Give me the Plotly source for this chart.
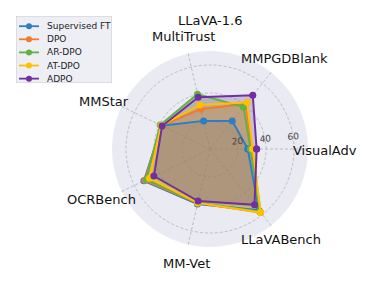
import plotly.graph_objects as go

# ---- data ----
categories = ["VisualAdv", "MMPGDBlank", "LLaVA-1.6 MultiTrust", "MMStar", "OCRBench", "MM-Vet", "LLaVABench"]
methods = ["Supervised FT", "DPO", "AR-DPO", "AT-DPO", "ADPO"]
sft_vals = [27, 25.5, 20.6, 38.3, 52.4, 40.3, 56]
dpo_vals = [30, 41, 29.3, 38.5, 51.6, 39.5, 58]
ardpo_vals = [29, 38.4, 40.2, 39.5, 50.5, 39.3, 57]
atdpo_vals = [30.5, 42.6, 32.3, 38.8, 48, 39.5, 58]
adpo_vals = [33.3, 49, 38, 38, 44.5, 38.1, 51]
radial_ticks = [20, 40, 60]
series = [sft_vals, dpo_vals, ardpo_vals, atdpo_vals, adpo_vals]

# ---- styles ----
colors = ["#2e7ec1", "#f27b2b", "#63b043", "#ffc000", "#7030a0"]
fills = ["rgba(46,126,193,0.25)", "rgba(242,123,43,0.25)", "rgba(99,176,67,0.25)",
         "rgba(255,192,0,0.25)", "rgba(112,48,160,0.25)"]
W, H = 374, 285
FONT = "DejaVu Sans"

fig = go.Figure()
# fills first
for name, vals, fc in zip(methods, series, fills):
    fig.add_trace(go.Scatterpolar(
        r=vals + vals[:1], theta=categories + categories[:1],
        mode="none", fill="toself", fillcolor=fc, showlegend=False, hoverinfo="skip",
    ))
# lines and markers on top
for name, vals, c in zip(methods, series, colors):
    fig.add_trace(go.Scatterpolar(
        r=vals + vals[:1], theta=categories + categories[:1],
        mode="lines+markers", name=name,
        line=dict(color=c, width=2), marker=dict(color=c, size=7),
        showlegend=False,
    ))

# custom legend drawn in a small cartesian subplot
for i, (name, c) in enumerate(zip(methods, colors)):
    y = 5 + i * 13.5
    fig.add_trace(go.Scatter(x=[3, 23], y=[y, y], mode="lines", line=dict(color=c, width=1.8),
                             xaxis="x2", yaxis="y2", showlegend=False, hoverinfo="skip"))
    fig.add_trace(go.Scatter(x=[13], y=[y], mode="markers", marker=dict(color=c, size=6),
                             xaxis="x2", yaxis="y2", showlegend=False, hoverinfo="skip"))
    fig.add_annotation(x=29, y=y, xref="x2", yref="y2", text=name, showarrow=False,
                       xanchor="left", yanchor="middle", font=dict(family=FONT, size=9, color="#222"))
fig.add_shape(type="rect", xref="x2", yref="y2", x0=0, x1=96, y0=-5.5, y1=63.5,
              line=dict(color="#cccccc", width=1), fillcolor="rgba(234,234,242,0.8)", layer="below")

# category labels
label_pos = {
    "VisualAdv": [(324.5, 150)],
    "MMPGDBlank": [(284, 59)],
    "LLaVA-1.6 MultiTrust": [(210, 20), (183.5, 37)],
    "MMStar": [(104, 101)],
    "OCRBench": [(102, 199)],
    "MM-Vet": [(186, 263)],
    "LLaVABench": [(281, 239)],
}
for cat in categories:
    parts = cat.split(" ") if len(label_pos[cat]) > 1 else [cat]
    for txt, (px, py) in zip(parts, label_pos[cat]):
        fig.add_annotation(x=px / W, y=1 - py / H, xref="paper", yref="paper", text=txt,
                           showarrow=False, xanchor="center", yanchor="middle",
                           font=dict(family=FONT, size=13, color="#111"))

cx, cy, R = 210, 149, 98
fig.update_layout(
    width=W, height=H, margin=dict(l=0, r=0, t=0, b=0),
    paper_bgcolor="white", plot_bgcolor="rgba(0,0,0,0)",
    font=dict(family=FONT),
    polar=dict(
        domain=dict(x=[(cx - R) / W, (cx + R) / W], y=[(H - cy - R) / H, (H - cy + R) / H]),
        bgcolor="#eaeaf2",
        radialaxis=dict(range=[0, 70], tickvals=radial_ticks, angle=5, side="counterclockwise",
                        showline=False, ticks="", gridcolor="#bcbcc4", griddash="3px,2px", gridwidth=0.8,
                        tickfont=dict(family=FONT, size=9, color="#444")),
        angularaxis=dict(rotation=0, direction="counterclockwise", showticklabels=False,
                         ticks="", showline=False, gridcolor="#bcbcc4", griddash="3px,2px", gridwidth=0.8),
    ),
    xaxis2=dict(domain=[16 / W, 112 / W], range=[0, 96], visible=False, fixedrange=True),
    yaxis2=dict(domain=[(H - 83) / H, (H - 16) / H], range=[63.5, -5.5], visible=False, fixedrange=True),
)
fig.write_html("out.html", config={"displayModeBar": False},
               post_script="document.body.style.margin='0';document.body.style.overflow='hidden';")
